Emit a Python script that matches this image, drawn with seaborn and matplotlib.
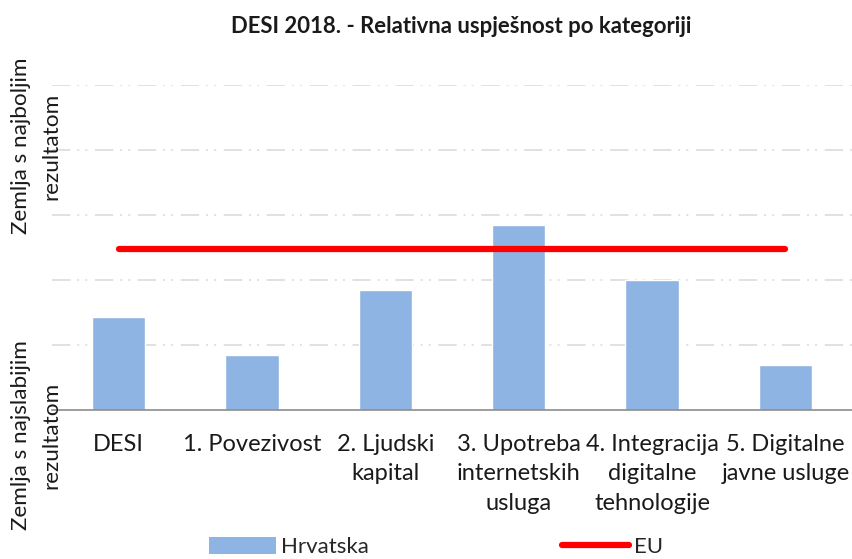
import matplotlib
matplotlib.use("Agg")
import matplotlib.pyplot as plt
import seaborn as sns
import pandas as pd
import numpy as np
from matplotlib.patches import Patch
from matplotlib.lines import Line2D

categories = ["DESI", "1. Povezivost", "2. Ljudski\nkapital", "3. Upotreba\ninternetskih\nusluga",
              "4. Integracija\ndigitalne\ntehnologije", "5. Digitalne\njavne usluge"]
hrvatska = [1.43, 0.85, 1.84, 2.85, 2.0, 0.69]
eu = [2.47, 2.47, 2.47, 2.47, 2.47, 2.47]

sns.set_theme(style="white")
plt.rcParams['font.family'] = ['Lato', 'DejaVu Sans']

fig = plt.figure(figsize=(8.53, 5.59), dpi=100)
ax = fig.add_axes([0.061, 0.2665, 0.938, 0.5815])

df = pd.DataFrame({"cat": categories, "val": hrvatska})
sns.barplot(data=df, x="cat", y="val", color="#8EB4E3", saturation=1, width=0.4, ax=ax)
xs = np.arange(len(categories))
ax.plot(xs, eu, color="#FF0000", lw=4.5, solid_capstyle="round", zorder=5)

ax.set_ylim(0, 5)
ax.set_xlim(-0.5, len(categories) - 0.5)
ax.set_yticks([])
for y in [1, 2, 3, 4, 5]:
    ax.axhline(y, color="#D9D9D9", lw=1.1, linestyle=(0, (12, 4.5, 1.3, 4, 1.3, 5)), zorder=0)

for s in ["top", "right", "left"]:
    ax.spines[s].set_visible(False)
ax.spines["bottom"].set_color("#8C8C8C")
ax.spines["bottom"].set_linewidth(1.2)

ax.set_xticks(xs)
ax.set_xticklabels(categories, fontsize=17, linespacing=1.5, color="#1a1a1a")
ax.tick_params(axis="x", which="major", length=0, pad=17)
ax.set_xticks(np.arange(-0.5, len(categories), 1.0), minor=True)
ax.tick_params(axis="x", which="minor", length=6, width=1.2, color="#8C8C8C", direction="out")
ax.set_xlabel("")
ax.set_ylabel("")

fig.text(0.541, 0.952, "DESI 2018. - Relativna uspješnost po kategoriji", ha="center", va="center",
         fontsize=15.9, fontweight="bold", color="#1a1a1a")

fig.text(0.0425, 0.739, "Zemlja s najboljim\nrezultatom", rotation=90, ha="center", va="center",
         fontsize=16.2, color="#1a1a1a", linespacing=1.6, multialignment="center")
fig.text(0.0425, 0.222, "Zemlja s najslabijim\nrezultatom", rotation=90, ha="center", va="center",
         fontsize=16.2, color="#1a1a1a", linespacing=1.6, multialignment="center")

handles = [Patch(facecolor="#8EB4E3", edgecolor="none"),
           Line2D([0], [0], color="#FF0000", lw=4.5, solid_capstyle="round")]
fig.legend(handles, ["Hrvatska", "EU"], loc="center", bbox_to_anchor=(0.511, 0.021), ncol=2,
           frameon=False, fontsize=16, handlelength=3.0, handleheight=0.8, handletextpad=0.23,
           columnspacing=8.7, borderpad=0, borderaxespad=0)

fig.savefig("out.png", dpi=100)
